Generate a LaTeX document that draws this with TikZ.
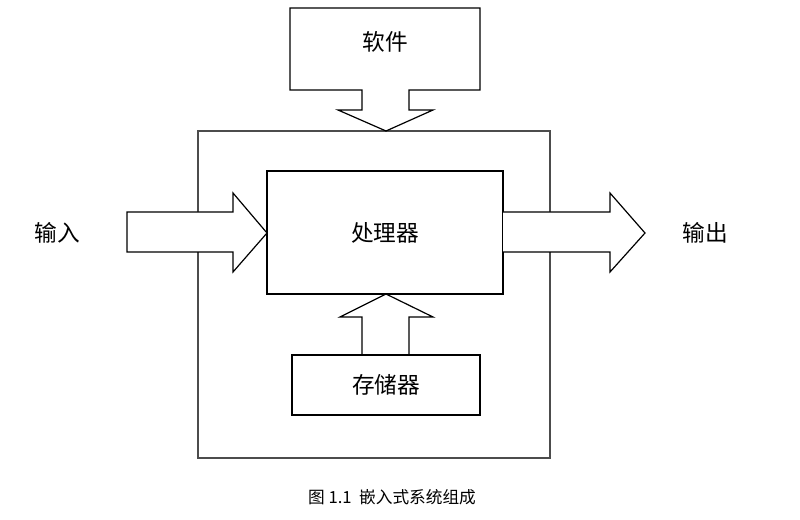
\documentclass[tikz,border=0pt]{standalone}
\usepackage{fontspec}
\newfontfamily\cjk{Noto Sans CJK SC}
\usetikzlibrary{positioning}
\tikzset{
	blk/.style={draw, black, line width=0.9pt},
	lbl/.style={font=\cjk\fontsize{17}{20}\selectfont},
}
\begin{document}
\begin{tikzpicture}[x=0.75pt,y=-0.75pt]
	\useasboundingbox (0,0) rectangle (800,520);
	% outer frame
	\draw[line width=0.9pt, black!70] (198,131) rectangle (550,458);
	% software block with arrow
	\draw[blk, fill=white] (290,8) -- (480,8) -- (480,90) -- (409,90) -- (409,110) -- (433,110)
	-- (386,131) -- (338,110) -- (362,110) -- (362,90) -- (290,90) -- cycle;
	\node[lbl] (sw) at (385,42) {软件};
	% processor
	\draw[blk] (267,171) rectangle (503,294);
	\node[lbl] (cpu) at (385,233) {处理器};
	% input arrow
	\draw[blk, fill=white] (127,212) -- (233,212) -- (233,193) -- (267,233) -- (233,272)
	-- (233,252) -- (127,252) -- cycle;
	\node[lbl] (in) at (57,233) {输入};
	% output arrow
	\draw[blk, fill=white] (503,212) -- (610,212) -- (610,193) -- (645,233) -- (610,272)
	-- (610,252) -- (503,252);
	\node[lbl] (out) at (705,233) {输出};
	% memory with arrow
	\draw[blk] (362,355) -- (362,317) -- (340,317) -- (386,294) -- (433,317) -- (409,317) -- (409,355);
	\draw[blk] (292,355) rectangle (480,415);
	\node[lbl] (mem) at (386,385) {存储器};
	% caption
	\node[font=\cjk\fontsize{12.5}{15}\selectfont] (cap) at (392,497) {图 1.1\ \ 嵌入式系统组成};
\end{tikzpicture}
\end{document}
